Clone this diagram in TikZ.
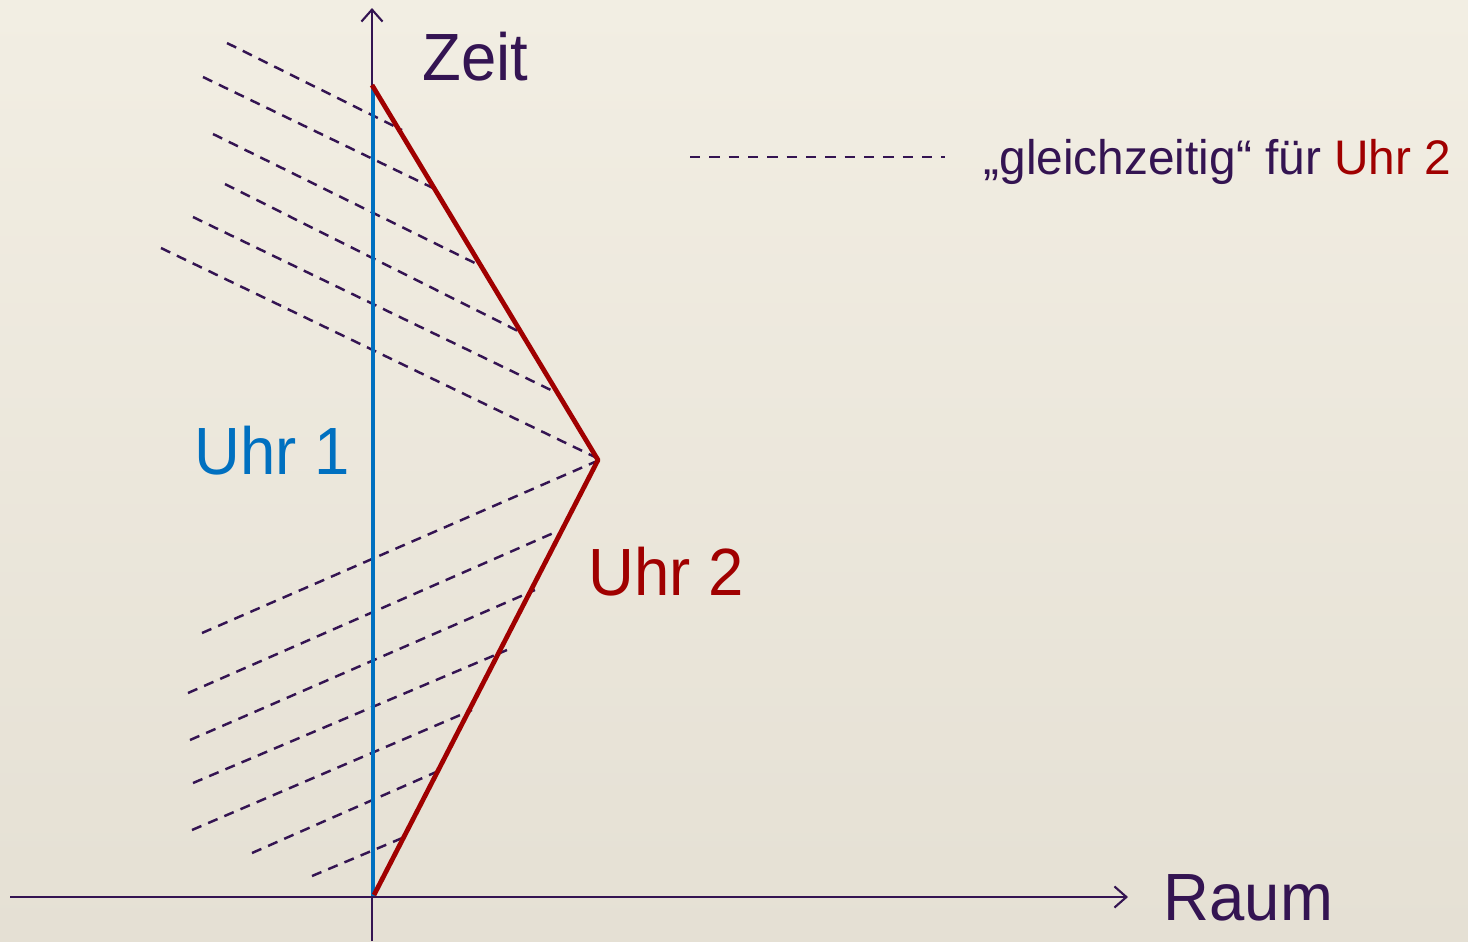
\documentclass[tikz,border=0pt]{standalone}
\usepackage{fontspec}
\setmainfont{Liberation Sans}
\newfontfamily\bigfont[FakeStretch=0.95]{Liberation Sans}
\newfontfamily\legfont[FakeStretch=0.985]{Liberation Sans}
\usetikzlibrary{arrows.meta}
\definecolor{bgtop}{RGB}{242,238,227}
\definecolor{bgbot}{RGB}{229,224,212}
\definecolor{ink}{RGB}{52,20,82}
\definecolor{clockblue}{RGB}{0,112,192}
\definecolor{clockred}{RGB}{160,0,0}
\tikzset{
  axis/.style={draw=ink, line width=0.6pt, -{Straight Barb[length=3.4pt,width=6pt]}},
  simul/.style={draw=ink, line width=0.7pt, dash pattern=on 2.9pt off 2.1pt},
  worldline/.style={line width=1.35pt, line join=round},
  bigtext/.style={font=\bigfont\fontsize{19pt}{22pt}\selectfont, anchor=base west, inner sep=0pt},
  legtext/.style={font=\legfont\fontsize{13.8pt}{17pt}\selectfont, anchor=base west, inner sep=0pt, text=ink}
}
\begin{document}
\begin{tikzpicture}[x=0.01cm,y=-0.01cm]
\shade[top color=bgtop, bottom color=bgbot] (0,0) rectangle (1468,941);
\useasboundingbox (0,0) rectangle (1468,941);
% axes
\coordinate (xs) at (10,897);
\coordinate (xe) at (1128,897);
\coordinate (ys) at (372,941);
\coordinate (ye) at (372,8);
\draw[axis] (xs) -- (xe);
\draw[axis] (ys) -- (ye);
% dashed simultaneity lines, upper
\coordinate (u1a) at (227,43);  \coordinate (u1b) at (402,130);
\coordinate (u2a) at (203,77);  \coordinate (u2b) at (433,188);
\coordinate (u3a) at (213,134); \coordinate (u3b) at (483,267);
\coordinate (u4a) at (225,184); \coordinate (u4b) at (518,331);
\coordinate (u5a) at (193,217); \coordinate (u5b) at (555,392);
\coordinate (u6a) at (161,248); \coordinate (u6b) at (597,458);
\foreach \i in {1,...,6} \draw[simul] (u\i a) -- (u\i b);
% dashed simultaneity lines, lower
\coordinate (l1a) at (202,633); \coordinate (l1b) at (597,461);
\coordinate (l2a) at (188,693); \coordinate (l2b) at (558,531);
\coordinate (l3a) at (190,740); \coordinate (l3b) at (535,590);
\coordinate (l4a) at (193,783); \coordinate (l4b) at (507,650);
\coordinate (l5a) at (192,830); \coordinate (l5b) at (472,710);
\coordinate (l6a) at (252,853); \coordinate (l6b) at (443,769);
\coordinate (l7a) at (312,876); \coordinate (l7b) at (407,836);
\foreach \i in {1,...,7} \draw[simul] (l\i a) -- (l\i b);
% world lines
\coordinate (o) at (373,896);
\coordinate (b1) at (373,88);
\coordinate (r1) at (372,85);
\coordinate (turn) at (598,460);
\coordinate (r2) at (374,895);
\draw[worldline, clockblue] (o) -- (b1);
\draw[worldline, clockred] (r1) -- (turn) -- (r2);
% labels
\node[bigtext, text=ink] (zeit) at (422,80) {Zeit};
\node[bigtext, text=ink] (raum) at (1163,920) {Raum};
\node[bigtext, text=clockblue] (uhr1) at (194,474) {Uhr 1};
\node[bigtext, text=clockred] (uhr2) at (588,595) {Uhr 2};
% legend
\coordinate (lega) at (690,157);
\coordinate (legb) at (945,157);
\draw[simul, dash pattern=on 2.9pt off 2.6pt] (lega) -- (legb);
\node[legtext] (legend) at (983,174) {„gleichzeitig“ für \textcolor{clockred}{Uhr 2}};
\end{tikzpicture}
\end{document}
